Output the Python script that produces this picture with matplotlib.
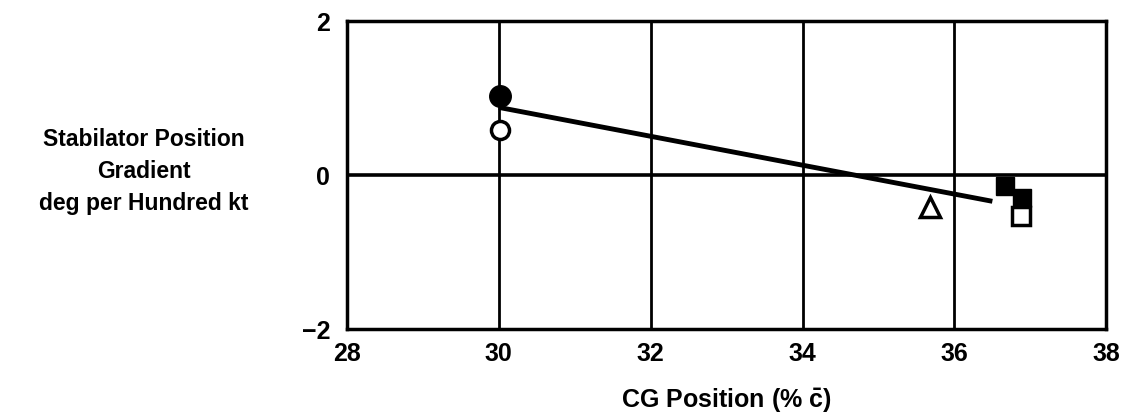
import matplotlib
matplotlib.use("Agg")
import matplotlib.pyplot as plt

plt.rcParams['font.family'] = ['Liberation Sans', 'DejaVu Sans']
plt.rcParams['mathtext.fontset'] = 'custom'
plt.rcParams['mathtext.rm'] = 'Liberation Sans:bold'

# Data points (CG position %, gradient deg/100 kt)
filledCircleX = [30.02]
filledCircleY = [1.03]
openCircleX = [30.02]
openCircleY = [0.58]
triangleX = [35.68]
triangleY = [-0.42]
filledSquareX = [36.66, 36.89]
filledSquareY = [-0.14, -0.30]
openSquareX = [36.88]
openSquareY = [-0.53]

# Fitted trend line end points
fitX = [30.0, 36.5]
fitY = [0.88, -0.34]

xTicks = [28, 30, 32, 34, 36, 38]
yTicks = [-2, 0, 2]


def main():
    fig = plt.figure(figsize=(11.3, 4.15), dpi=100)
    ax = fig.add_axes([0.307, 0.207, 0.672, 0.742])

    ax.set_xlim(28, 38)
    ax.set_ylim(-2, 2)

    # Grid lines, the zero line is heavier
    for x in xTicks[1:-1]:
        ax.axvline(x, color='black', lw=2, zorder=1)
    ax.axhline(0, color='black', lw=2.6, zorder=1)

    ax.plot(fitX, fitY, color='black', lw=3.5, solid_capstyle='butt', zorder=2)

    ax.plot(filledCircleX, filledCircleY, 'o', ms=15.5, color='black', zorder=3)
    ax.plot(openCircleX, openCircleY, 'o', ms=13, mfc='white', mec='black', mew=2.5, zorder=3)
    ax.plot(triangleX, triangleY, '^', ms=15, mfc='white', mec='black', mew=2.5, zorder=3)
    ax.plot(filledSquareX, filledSquareY, 's', ms=13, color='black', zorder=3)
    ax.plot(openSquareX, openSquareY, 's', ms=13, mfc='white', mec='black', mew=2.5, zorder=3)

    for s in ax.spines.values():
        s.set_linewidth(2.5)

    ax.set_xticks(xTicks)
    ax.set_yticks(yTicks)
    ax.set_yticklabels(['\u22122', '0', '2'])
    ax.tick_params(length=0, labelsize=18)
    ax.tick_params(axis='x', pad=9)
    ax.tick_params(axis='y', pad=12)
    for lab in ax.get_xticklabels() + ax.get_yticklabels():
        lab.set_fontweight('bold')

    ax.set_xlabel(r'CG Position (% $\bar{\mathrm{c}}$)', fontsize=18, fontweight='bold', labelpad=15)

    fig.text(0.127, 0.586, 'Stabilator Position\nGradient\ndeg per Hundred kt',
             ha='center', va='center', fontsize=16.5, fontweight='bold', linespacing=1.5)

    fig.savefig('out.png', dpi=100, facecolor='white')


if __name__ == "__main__":
    main()
